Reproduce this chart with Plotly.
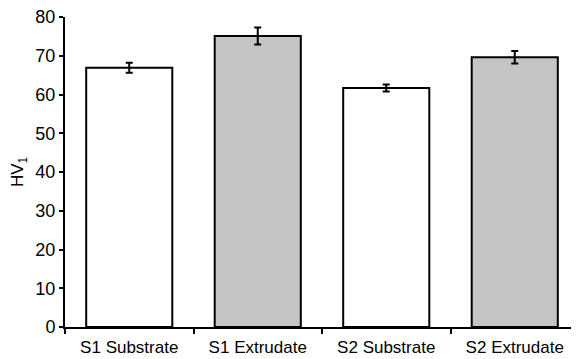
import plotly.graph_objects as go

categories = ["S1 Substrate", "S1 Extrudate", "S2 Substrate", "S2 Extrudate"]
hv_values = [66.9, 75.1, 61.7, 69.6]
hv_errors = [1.3, 2.2, 0.9, 1.6]
bar_colors = ["#ffffff", "#c5c5c5", "#ffffff", "#c5c5c5"]
y_ticks = [0, 10, 20, 30, 40, 50, 60, 70, 80]

fig = go.Figure()
fig.add_trace(go.Bar(
    x=categories, y=hv_values,
    marker=dict(color=bar_colors, line=dict(color="black", width=2)),
    error_y=dict(type="data", array=hv_errors, visible=True,
                 color="black", thickness=2, width=3.5),
    width=0.67,
))

font = "Liberation Sans, Arial, sans-serif"
fig.update_layout(
    width=571, height=351,
    margin=dict(l=57, r=0, t=9, b=32),
    plot_bgcolor="white", paper_bgcolor="white",
    showlegend=False,
    font=dict(family=font, size=17, color="black"),
    xaxis=dict(
        showline=True, linecolor="black", linewidth=2,
        tickson="boundaries", ticks="outside", ticklen=5, tickwidth=2,
        tickcolor="black", showgrid=False, range=[-0.5, 3.5],
        tickfont=dict(size=17), ticklabelstandoff=4,
    ),
    yaxis=dict(
        range=[0, 80], tickvals=y_ticks,
        showline=True, linecolor="black", linewidth=2,
        ticks="outside", ticklen=4, tickwidth=2, tickcolor="black",
        showgrid=False, zeroline=False, ticklabeloverflow="allow",
        title=dict(text="HV<sub>1</sub>", font=dict(size=17), standoff=10),
        tickfont=dict(size=18),
    ),
)

fig.write_html("out.html")
